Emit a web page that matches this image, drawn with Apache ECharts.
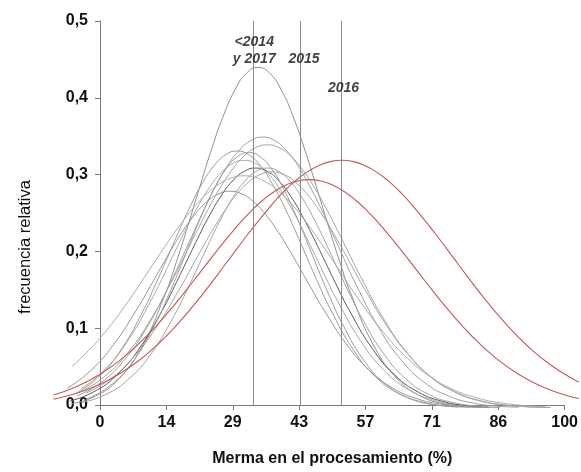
<!DOCTYPE html>
<html><head><meta charset="utf-8">
<script src="https://cdn.jsdelivr.net/npm/echarts@6/dist/echarts.min.js"></script>
<style>html,body{margin:0;padding:0;background:#fff}#c{width:581px;height:472px}</style>
</head><body><div id="c"></div>
<script>
// grey curves (<2014 and 2017), [merma %, relative frequency]
const gray1 = [[-6,0.0055],[-1,0.0153],[4,0.0373],[9,0.0792],[14,0.1469],[16.5,0.19],[19,0.2374],[21.5,0.2866],[24,0.3344],[26.5,0.3771],[29,0.4108],[31.5,0.4325],[34,0.44],[36.5,0.4325],[39,0.4108],[41.5,0.3771],[44,0.3344],[46.5,0.2866],[49,0.2374],[51.5,0.19],[54,0.1469],[59,0.0792],[64,0.0373],[69,0.0153],[74,0.0055],[79,0.0017],[84,0.0005]];
const gray2 = [[-5,0.0154],[0,0.032],[5,0.0603],[10,0.1033],[15,0.1602],[17.5,0.1924],[20,0.2255],[22.5,0.258],[25,0.2879],[27.5,0.3136],[30,0.3333],[32.5,0.3457],[35,0.35],[37.5,0.3457],[40,0.3333],[42.5,0.3136],[45,0.2879],[47.5,0.258],[50,0.2255],[52.5,0.1924],[55,0.1602],[60,0.1033],[65,0.0603],[70,0.032],[75,0.0154],[80,0.0067],[85,0.0026],[90,0.001]];
const gray3 = [[-4,0.0214],[1,0.0408],[6,0.0716],[11,0.1153],[16,0.1702],[18.5,0.2002],[21,0.2304],[23.5,0.2595],[26,0.286],[28.5,0.3085],[31,0.3256],[33.5,0.3364],[36,0.34],[38.5,0.3364],[41,0.3256],[43.5,0.3085],[46,0.286],[48.5,0.2595],[51,0.2304],[53.5,0.2002],[56,0.1702],[61,0.1153],[66,0.0716],[71,0.0408],[76,0.0214],[81,0.0102],[86,0.0045],[91,0.0018],[96,0.0007]];
const gray4 = [[-5.5,0.018],[-0.5,0.039],[4.5,0.0751],[9.5,0.1282],[12,0.1603],[14.5,0.1944],[17,0.229],[19.5,0.2617],[22,0.2904],[24.5,0.3128],[27,0.3271],[29.5,0.332],[32,0.3271],[34.5,0.3128],[37,0.2904],[39.5,0.2617],[42,0.229],[44.5,0.1944],[47,0.1603],[49.5,0.1282],[54.5,0.0751],[59.5,0.039],[64.5,0.018],[69.5,0.0074],[74.5,0.0027],[79.5,0.0009]];
const gray5 = [[-4,0.025],[1,0.0492],[6,0.0871],[11,0.1392],[13.5,0.1692],[16,0.2004],[18.5,0.2312],[21,0.2599],[23.5,0.2846],[26,0.3038],[28.5,0.3159],[31,0.32],[33.5,0.3159],[36,0.3038],[38.5,0.2846],[41,0.2599],[43.5,0.2312],[46,0.2004],[48.5,0.1692],[51,0.1392],[56,0.0871],[61,0.0492],[66,0.025],[71,0.0115],[76,0.0047],[81,0.0018],[86,0.0006]];
const gray6 = [[-6.5,0.0089],[-1.5,0.0204],[3.5,0.042],[8.5,0.0773],[13.5,0.1274],[16,0.157],[18.5,0.188],[21,0.219],[23.5,0.2482],[26,0.2736],[28.5,0.2933],[31,0.3057],[33.5,0.31],[36,0.3057],[38.5,0.2933],[41,0.2736],[43.5,0.2482],[46,0.219],[48.5,0.188],[51,0.157],[53.5,0.1274],[58.5,0.0773],[63.5,0.042],[68.5,0.0204],[73.5,0.0089],[78.5,0.0034],[83.5,0.0012]];
const gray7 = [[-3,0.0192],[2,0.0366],[7,0.0643],[12,0.1034],[17,0.1527],[19.5,0.1796],[22,0.2067],[24.5,0.2328],[27,0.2565],[29.5,0.2767],[32,0.2921],[34.5,0.3017],[37,0.305],[39.5,0.3017],[42,0.2921],[44.5,0.2767],[47,0.2565],[49.5,0.2328],[52,0.2067],[54.5,0.1796],[57,0.1527],[62,0.1034],[67,0.0643],[72,0.0366],[77,0.0192],[82,0.0092],[87,0.004],[92,0.0016],[97,0.0006]];
const gray8 = [[-7,0.0256],[-2,0.0483],[3,0.0826],[8,0.1282],[10.5,0.1539],[13,0.1804],[15.5,0.2064],[18,0.2303],[20.5,0.2509],[23,0.2666],[25.5,0.2766],[28,0.28],[30.5,0.2766],[33,0.2666],[35.5,0.2509],[38,0.2303],[40.5,0.2064],[43,0.1804],[45.5,0.1539],[48,0.1282],[53,0.0826],[58,0.0483],[63,0.0256],[68,0.0123],[73,0.0054],[78,0.0021],[83,0.0008]];
const gray9 = [[-6,0.054],[-4,0.0649],[1,0.0974],[6,0.1373],[11,0.182],[13.5,0.2046],[16,0.2264],[18.5,0.2468],[21,0.2648],[23.5,0.2796],[26,0.2908],[28.5,0.2977],[31,0.30],[33.5,0.2977],[36,0.2908],[38.5,0.2796],[41,0.2648],[43.5,0.2468],[46,0.2264],[48.5,0.2046],[51,0.182],[56,0.1373],[61,0.0974],[66,0.0649],[71,0.0406],[76,0.0239],[81,0.0132],[86,0.0068],[91,0.0033],[96,0.0015]];
const gray10 = [[-3,0.0115],[2,0.028],[7,0.0594],[12,0.1102],[14.5,0.1425],[17,0.178],[19.5,0.215],[22,0.2508],[24.5,0.2828],[27,0.3081],[29.5,0.3244],[32,0.33],[34.5,0.3244],[37,0.3081],[39.5,0.2828],[42,0.2508],[44.5,0.215],[47,0.178],[49.5,0.1425],[52,0.1102],[57,0.0594],[62,0.028],[67,0.0115],[72,0.0041],[77,0.0013]];
const gray11 = [[-4,0.0069],[1,0.0168],[6,0.0365],[11,0.0702],[16,0.1198],[18.5,0.1496],[21,0.1815],[23.5,0.2138],[26,0.2444],[28.5,0.2712],[31,0.2921],[33.5,0.3054],[36,0.31],[38.5,0.3054],[41,0.2921],[43.5,0.2712],[46,0.2444],[48.5,0.2138],[51,0.1815],[53.5,0.1496],[56,0.1198],[61,0.0702],[66,0.0365],[71,0.0168],[76,0.0069],[81,0.0025],[86,0.0008]];
// red curves
const red2015 = [[-10,0.0169],[-5,0.0278],[0,0.0435],[5,0.065],[10,0.0927],[15,0.126],[20,0.1634],[25,0.2021],[30,0.2385],[32.5,0.2545],[35,0.2684],[37.5,0.2797],[40,0.2881],[42.5,0.2933],[45,0.295],[47.5,0.2933],[50,0.2881],[52.5,0.2797],[55,0.2684],[57.5,0.2545],[60,0.2385],[65,0.2021],[70,0.1634],[75,0.126],[80,0.0927],[85,0.065],[90,0.0435],[95,0.0278],[100,0.0169],[103,0.0123]];
const red2016 = [[-10,0.0114],[-8,0.0141],[-3,0.0232],[2,0.0365],[7,0.0552],[12,0.0798],[17,0.1105],[22,0.1465],[27,0.186],[32,0.2261],[37,0.2632],[39.5,0.2794],[42,0.2934],[44.5,0.3047],[47,0.3131],[49.5,0.3183],[52,0.32],[54.5,0.3183],[57,0.3131],[59.5,0.3047],[62,0.2934],[64.5,0.2794],[67,0.2632],[72,0.2261],[77,0.186],[82,0.1465],[87,0.1105],[92,0.0798],[97,0.0552],[102,0.0365],[103,0.0335]];
// vertical reference lines
const yearLines = [33, 43, 52];
// annotation texts
const yearText = ['<2014\ny 2017', '2015', '2016'];
const yearTextX = [33.2, 43.9, 52.4];
const yearTextY = [0.462, 0.450, 0.413];
// axis ticks
const xTickValues = [0, 14.2857, 28.5714, 42.8571, 57.1429, 71.4286, 85.7143, 100];
const xTickLabels = ['0','14','29','43','57','71','86','100'];

const FONT = "'Liberation Sans', Arial, sans-serif";
const grays = [gray1,gray2,gray3,gray4,gray5,gray6,gray7,gray8,gray9,gray10,gray11];
const grayColors = ['#909090','#a0a0a0','#a4a4a4','#9c9c9c','#aaaaaa','#5a5a5a','#a4a4a4','#969696','#acacac','#9c9c9c','#a4a4a4'];

const series = [];
grays.forEach((g,i)=>{
  series.push({type:'line', xAxisIndex:1, yAxisIndex:1, data:g, smooth:0.5, showSymbol:false, silent:true,
    lineStyle:{color:grayColors[i], width:1}, z:2});
});
[red2015, red2016].forEach(r=>{
  series.push({type:'line', xAxisIndex:1, yAxisIndex:1, data:r, smooth:0.5, showSymbol:false, silent:true,
    lineStyle:{color:'#c45a5a', width:1.1}, z:3});
});
series.push({type:'line', xAxisIndex:0, yAxisIndex:0, data:[], silent:true,
  markLine:{symbol:'none', silent:true, label:{show:false},
    lineStyle:{color:'#8c8c8c', type:'solid', width:1},
    data: yearLines.map(v=>({xAxis:v}))}});
series.push({type:'scatter', xAxisIndex:0, yAxisIndex:0, symbolSize:0, silent:true, z:5,
  data: yearText.map((t,i)=>({value:[yearTextX[i], yearTextY[i]], name:t})),
  label:{show:true, position:'inside', formatter:'{b}', color:'#111',
    fontFamily:FONT, fontSize:14, fontWeight:'bold', fontStyle:'italic', lineHeight:17}});

const chart = echarts.init(document.getElementById('c'), null, {renderer:'canvas'});
chart.setOption({
  animation:false,
  backgroundColor:'#fff',
  grid:[
    {left:100, right:16, top:21, bottom:64, containLabel:false},
    {left:53.5, right:2.05, top:21, bottom:64, containLabel:false}
  ],
  xAxis:[
    {type:'value', gridIndex:0, min:0, max:100,
      name:'Merma en el procesamiento (%)', nameLocation:'middle', nameGap:46,
      nameTextStyle:{fontFamily:FONT, fontSize:16, fontWeight:'bold', color:'#111'},
      axisLine:{show:true, onZero:false, lineStyle:{color:'#7a7a7a', width:1}},
      axisTick:{show:true, length:5, lineStyle:{color:'#7a7a7a'}, customValues:xTickValues},
      axisLabel:{fontFamily:FONT, fontSize:16, fontWeight:'bold', color:'#111', margin:10,
        customValues:xTickValues,
        formatter:v=>{const i=xTickValues.findIndex(t=>Math.abs(t-v)<0.01); return i>=0?xTickLabels[i]:'';}},
      splitLine:{show:false}},
    {type:'value', gridIndex:1, min:-10, max:103, show:false, splitLine:{show:false}}
  ],
  yAxis:[
    {type:'value', gridIndex:0, min:0, max:0.5, interval:0.1,
      axisLine:{show:true, onZero:false, lineStyle:{color:'#7a7a7a', width:1}},
      axisTick:{show:true, length:5, lineStyle:{color:'#7a7a7a'}},
      axisLabel:{fontFamily:FONT, fontSize:16, fontWeight:'bold', color:'#111', margin:12,
        formatter:v=>v.toFixed(1).replace('.',',')},
      splitLine:{show:false}},
    {type:'value', gridIndex:1, min:0, max:0.5, show:false, splitLine:{show:false}}
  ],
  graphic:[{type:'text', x:25, y:247, rotation:Math.PI/2,
    style:{text:'frecuencia relativa', fontFamily:FONT, fontSize:16.5, fill:'#111',
      textAlign:'center', textVerticalAlign:'middle'}}],
  series: series
});
</script></body></html>
